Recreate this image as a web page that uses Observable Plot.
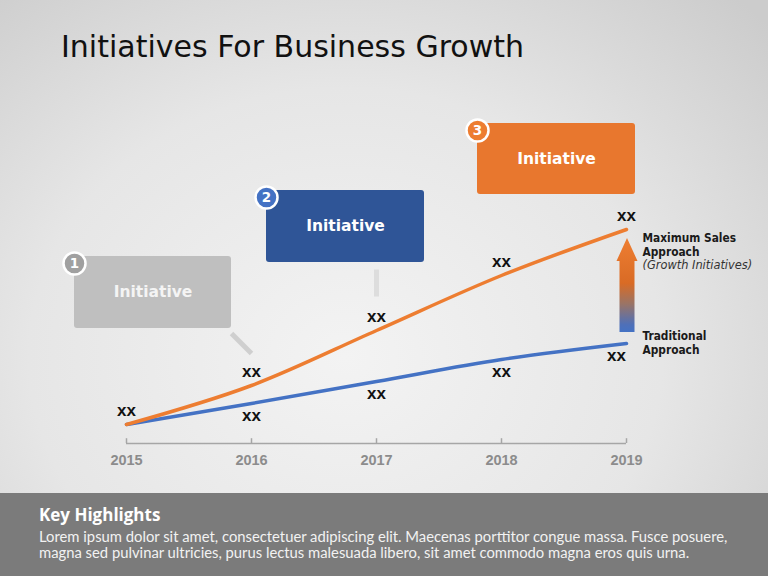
<!DOCTYPE html>
<html>
<head>
<meta charset="utf-8">
<script src="https://cdn.jsdelivr.net/npm/d3@7"></script>
<script src="https://cdn.jsdelivr.net/npm/@observablehq/plot@0.6"></script>
<style>
  html, body { margin: 0; padding: 0; }
  #page {
    position: relative; width: 768px; height: 576px; overflow: hidden;
    background: radial-gradient(ellipse 75% 85% at 45% 62%, #f3f3f3 0%, #e6e6e6 55%, #cccccc 100%);
  }
  #title {
    position: absolute; left: 61px; top: 29px; margin: 0;
    font-family: "DejaVu Sans", Verdana, sans-serif; font-weight: normal;
    font-size: 30px; color: #111; white-space: nowrap;
  }
  #chart { position: absolute; left: 0; top: 0; }
  #band {
    position: absolute; left: 0; top: 493px; width: 768px; height: 83px;
    background: #7b7b7b; color: #fff;
  }
  #band h2 {
    position: absolute; left: 39px; top: 10px; margin: 0;
    font-family: "Open Sans", "DejaVu Sans", sans-serif; font-weight: bold; font-size: 17px;
  }
  #band p {
    position: absolute; left: 39px; top: 36px; margin: 0; width: 715px;
    font-family: Lato, sans-serif; font-size: 14.8px; line-height: 15.5px; color: #f2f2f2;
  }
</style>
</head>
<body>
<div id="page">
  <div id="chart"></div>
  <h1 id="title"></h1>
  <div id="band"><h2 id="kh"></h2><p id="body"></p></div>
</div>
<script>
// ---- data ----
const titleText = "Initiatives For Business Growth";
const years = [2015, 2016, 2017, 2018, 2019];
const maxSales = [4.75, 14.5, 28.25, 42, 53.5];      // Maximum Sales Approach (orange)
const traditional = [4.75, 10, 15.5, 21, 25];        // Traditional Approach (blue)
const maxLabels = ["xx", "xx", "xx", "xx", "xx"];
const tradLabels = ["", "xx", "xx", "xx", "xx"];
const maxSeriesName = "Maximum Sales\nApproach";
const maxSeriesNote = "(Growth Initiatives)";
const tradSeriesName = "Traditional\nApproach";
const initiativeNames = ["Initiative", "Initiative", "Initiative"];
const initiativeNumbers = ["1", "2", "3"];
const highlightsTitle = "Key Highlights";
const highlightsText = "Lorem ipsum dolor sit amet, consectetuer adipiscing elit. Maecenas porttitor congue massa. Fusce posuere, magna sed pulvinar ultricies, purus lectus malesuada libero, sit amet commodo magna eros quis urna.";

// ---- annotation layout (data units) ----
const boxX1 = [2014.584, 2016.12, 2017.808];
const boxX2 = [2015.84, 2017.384, 2019.072];
const boxY1 = [28.75, 45.25, 62.25];
const boxY2 = [46.75, 63.25, 80];
const boxFill = ["#bfbfbf", "#2f5597", "#e8772e"];
const boxText = ["#f4f4f4", "#ffffff", "#ffffff"];
const badgeFill = ["#a0a0a0", "#4472c4", "#ed7d31"];

document.getElementById("title").textContent = titleText;
document.getElementById("kh").textContent = highlightsTitle;
document.getElementById("body").textContent = highlightsText;

const orange = years.map((year, i) => ({year, value: maxSales[i], label: maxLabels[i]}));
const blue = years.map((year, i) => ({year, value: traditional[i], label: tradLabels[i]}));
const boxes = initiativeNames.map((name, i) => ({
  name, num: initiativeNumbers[i],
  x1: boxX1[i], x2: boxX2[i], y1: boxY1[i], y2: boxY2[i],
  fill: boxFill[i], tfill: boxText[i], badge: badgeFill[i]
}));
const connectors = [
  {x1: 2015.84, y1: 27.5, x2: 2016.0, y2: 22.5, stroke: "#cfcfcf"},
  {x1: 2017.0, y1: 43.5, x2: 2017.0, y2: 36.75, stroke: "#dddddd"}
];
const lastOrange = orange[orange.length - 1];
const lastBlue = blue[blue.length - 1];

const arrowMark = (index, scales) => {
  const g = d3.create("svg:g");
  const grad = g.append("defs").append("linearGradient")
    .attr("id", "arrowGrad").attr("x1", 0).attr("y1", 1).attr("x2", 0).attr("y2", 0);
  [[0, "#4472c4"], [0.08, "#4f70b8"], [0.3, "#9a7466"], [0.52, "#d96b25"], [1, "#ee7e32"]]
    .forEach(([o, c]) => grad.append("stop").attr("offset", o).attr("stop-color", c));
  const cx = scales.x(2019) + 1;
  const yb = scales.y(27.75), yh = scales.y(45.5), yt = scales.y(51.25);
  const sw = 7.5, hw = 10.5;
  g.append("polygon")
    .attr("points", [[cx - sw, yb], [cx + sw, yb], [cx + sw, yh], [cx + hw, yh], [cx, yt], [cx - hw, yh], [cx - sw, yh]].map(p => p.join(",")).join(" "))
    .attr("fill", "url(#arrowGrad)");
  return g.node();
};

const bold = {fontFamily: "Liberation Sans, Arial, sans-serif", fontWeight: "bold", fontSize: 17, fill: "#111"};
const lab = {fontFamily: "DejaVu Sans Condensed, DejaVu Sans, sans-serif", fontWeight: "bold", fontSize: 11.8, fill: "#1a1a1a", textAnchor: "start", lineHeight: 1.2};

const chart = Plot.plot({
  width: 768, height: 493,
  marginLeft: 126, marginRight: 142, marginTop: 43, marginBottom: 50,
  x: {domain: [2015, 2019], ticks: years, tickFormat: d => String(d), label: null},
  y: {domain: [0, 100], axis: null},
  style: {background: "transparent", overflow: "visible", fontFamily: "Liberation Sans, Arial, sans-serif"},
  marks: [
    Plot.ruleY([0], {stroke: "#a6a6a6", strokeWidth: 1.5}),
    Plot.ruleX(years, {x: d => d, y1: 0, y2: 1.2, stroke: "#a6a6a6", strokeWidth: 1.5}),
    Plot.axisX({ticks: years, tickFormat: d => String(d), tickSize: 0, tickPadding: 11, fontSize: 14.5, fontWeight: "bold", fill: "#8c8c8c", label: null}),
    Plot.link(connectors, {x1: "x1", y1: "y1", x2: "x2", y2: "y2", stroke: "stroke", strokeWidth: 5}),
    Plot.rect(boxes, {x1: "x1", x2: "x2", y1: "y1", y2: "y2", fill: "fill", rx: 3}),
    Plot.text(boxes, {x: d => (d.x1 + d.x2) / 2, y: d => (d.y1 + d.y2) / 2, text: "name", fill: "tfill",
      fontFamily: "DejaVu Sans, Verdana, sans-serif", fontWeight: "bold", fontSize: 15.5}),
    Plot.dot(boxes, {x: "x1", y: d => d.y2 - 1.75, r: 11, fill: "badge", stroke: "#fff", strokeWidth: 2.5}),
    Plot.text(boxes, {x: "x1", y: d => d.y2 - 1.75, text: "num", fill: "#fff",
      fontFamily: "DejaVu Sans, Verdana, sans-serif", fontWeight: "bold", fontSize: 13.5}),
    Plot.line(blue, {x: "year", y: "value", stroke: "#4472c4", strokeWidth: 3.5, curve: "monotone-x"}),
    Plot.line(orange, {x: "year", y: "value", stroke: "#ed7d31", strokeWidth: 3.5, curve: "monotone-x"}),
    arrowMark,
    Plot.text(orange, {x: "year", y: "value", text: "label", dy: -14, ...bold}),
    Plot.text(blue.filter(d => d.label && d.year < 2019), {x: "year", y: "value", text: "label", dy: 12, ...bold}),
    Plot.text(blue.filter(d => d.year === 2019), {x: "year", y: "value", text: "label", dy: 12, dx: -10, ...bold}),
    Plot.text([lastOrange], {x: "year", y: "value", text: () => maxSeriesName, dx: 16, dy: 2, lineAnchor: "top", ...lab}),
    Plot.text([lastOrange], {x: "year", y: "value", text: () => maxSeriesNote, dx: 16, dy: 36, lineAnchor: "middle",
      fontFamily: "DejaVu Sans, Verdana, sans-serif", fontStyle: "italic", fontSize: 11.4, fill: "#333", textAnchor: "start"}),
    Plot.text([lastBlue], {x: "year", y: "value", text: () => tradSeriesName, dx: 16, dy: -1, lineAnchor: "middle", ...lab}),
  ]
});
document.getElementById("chart").appendChild(chart);
</script>
</body>
</html>
